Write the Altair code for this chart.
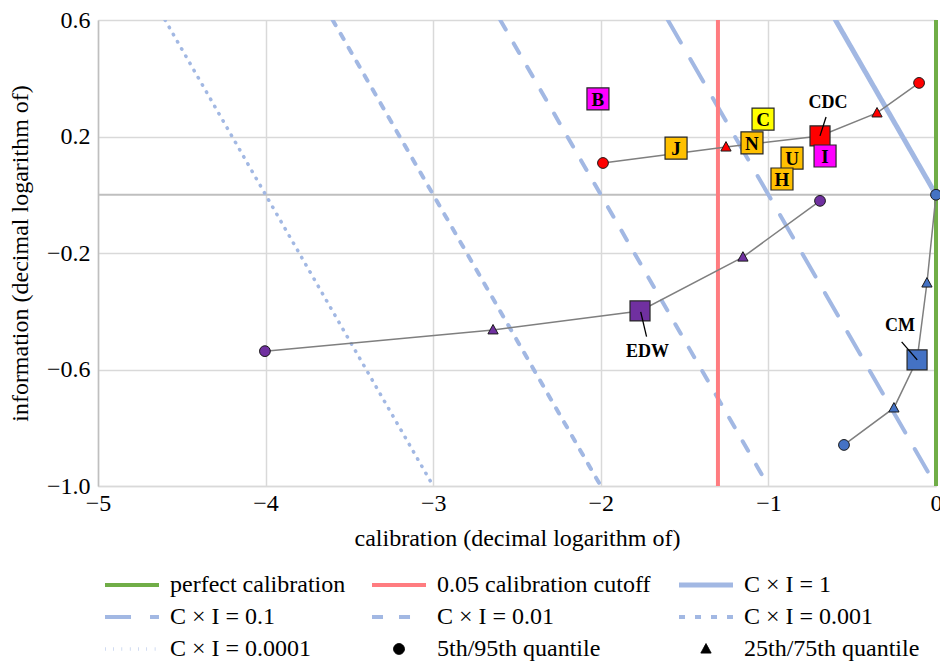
import altair as alt
import pandas as pd

FONT = "Liberation Serif, Times New Roman, serif"

# ---- legend / reference-line definitions ----
legend_domain = ["perfect calibration", "0.05 calibration cutoff", "C × I = 1",
                 "C × I = 0.1", "C × I = 0.01", "C × I = 0.001",
                 "C × I = 0.0001", "5th/95th quantile", "25th/75th quantile"]
legend_colors = ["#70AD47", "#FF7C80", "#A2B8E3", "#A2B8E3", "#A2B8E3",
                 "#A2B8E3", "#A2B8E3", "#000000", "#000000"]
legend_dashes = [[1, 0], [1, 0], [1, 0], [26, 19], [11, 16], [6, 10],
                 [0.5, 7.8], [1, 0], [1, 0]]
legend_widths = [4, 4, 5, 4, 4, 4, 3.5, 1, 1]
# symbol paths in unit coordinates (scaled by sqrt(size)/2 = 6.75 px)
STROKE = "M-4,0L4,0"
CIRCLE = "M0.8,0A0.8,0.8,0,1,1,-0.8,0A0.8,0.8,0,1,1,0.8,0Z"
TRIANGLE = "M0,-0.8L0.76,0.6L-0.76,0.6Z"
legend_shapes = [STROKE] * 7 + [CIRCLE, TRIANGLE]
SYMBOL_SIZE = 182

vertical_names = ["perfect calibration", "0.05 calibration cutoff"]
vertical_x = [0.0, -1.30103]          # log10(1), log10(0.05)
product_names = ["C × I = 1", "C × I = 0.1", "C × I = 0.01",
                 "C × I = 0.001", "C × I = 0.0001"]
product_log = [0, -1, -2, -3, -4]     # log10 of C×I

# ---- expert paths (5th, 25th, score, 75th, 95th) ----
path_experts = ["CDC", "EDW", "CM"]
path_colors = ["#FF0000", "#7030A0", "#4472C4"]
path_kind = ["5th/95th quantile", "25th/75th quantile", "score",
             "25th/75th quantile", "5th/95th quantile"]
cdc_x = [-1.987, -1.253, -0.692, -0.352, -0.101]
cdc_y = [0.109, 0.164, 0.202, 0.281, 0.384]
edw_x = [-4.004, -2.643, -1.766, -1.152, -0.692]
edw_y = [-0.537, -0.464, -0.399, -0.214, -0.021]
cm_x = [0.0, -0.054, -0.113, -0.251, -0.549]
cm_y = [0.0, -0.303, -0.567, -0.732, -0.859]

# annotation labels for the path experts
ann_text_x = [-0.644, -1.721, -0.215]
ann_text_y = [0.315, -0.540, -0.451]
lead_x1 = [-0.692, -1.762, -0.205]
lead_y1 = [0.202, -0.402, -0.505]
lead_x2 = [-0.656, -1.727, -0.112]
lead_y2 = [0.267, -0.487, -0.567]

# ---- single-letter experts ----
sq_labels = ["B", "C", "J", "N", "U", "H", "I"]
sq_x = [-2.017, -1.032, -1.551, -1.098, -0.859, -0.919, -0.662]
sq_y = [0.329, 0.260, 0.160, 0.178, 0.126, 0.054, 0.133]
sq_colors = ["#FF00FF", "#FFFF00", "#FFC000", "#FFC000", "#FFC000",
             "#FFC000", "#FF00FF"]

# ---- build tables ----
vert_rows = []
for n, xv in zip(vertical_names, vertical_x):
    vert_rows += [{"series": n, "x": xv, "y": -1.0}, {"series": n, "x": xv, "y": 0.6}]
vert_df = pd.DataFrame(vert_rows)

diag_rows = []
for n, lk in zip(product_names, product_log):
    diag_rows += [{"series": n, "x": lk - 0.6, "y": 0.6},
                  {"series": n, "x": lk + 1.0, "y": -1.0}]
diag_df = pd.DataFrame(diag_rows)

path_rows = []
for e, c, xs, ys in zip(path_experts, path_colors, [cdc_x, edw_x, cm_x], [cdc_y, edw_y, cm_y]):
    for i, (xv, yv, k) in enumerate(zip(xs, ys, path_kind)):
        path_rows.append({"expert": e, "fillc": c, "x": xv, "y": yv, "series": k, "idx": i})
path_df = pd.DataFrame(path_rows)
quant_df = path_df[path_df["series"] != "score"]
score_df = path_df[path_df["series"] == "score"]

ann_df = pd.DataFrame({"label": path_experts, "tx": ann_text_x, "ty": ann_text_y,
                       "x1": lead_x1, "y1": lead_y1, "x2": lead_x2, "y2": lead_y2})
sq_df = pd.DataFrame({"label": sq_labels, "x": sq_x, "y": sq_y, "fillc": sq_colors})

# ---- scales / encodings ----
xscale = alt.Scale(domain=[-5, 0], nice=False, zero=False)
yscale = alt.Scale(domain=[-1.0, 0.6], nice=False, zero=False)
xaxis = alt.Axis(values=[-5, -4, -3, -2, -1, 0], format="d",
                 title="calibration (decimal logarithm of)",
                 grid=True, gridColor="#D9D9D9", gridWidth=1.5,
                 domainColor="#D9D9D9", domainWidth=1.5, ticks=False,
                 labelFont=FONT, titleFont=FONT,
                 labelFontSize=24, labelPadding=5, titleFontSize=24,
                 titleFontWeight="normal", titlePadding=11, labelFlush=False)
yaxis = alt.Axis(values=[-1.0, -0.6, -0.2, 0.2, 0.6], format=".1f",
                 title="information (decimal logarithm of)",
                 grid=True, gridColor="#D9D9D9", gridWidth=1.5,
                 domainColor="#BFBFBF", domainWidth=1.5, ticks=False,
                 labelFont=FONT, titleFont=FONT,
                 labelFontSize=24, labelPadding=8, titleFontSize=24,
                 titleFontWeight="normal", titlePadding=14)
X = alt.X("x:Q", scale=xscale, axis=xaxis)
Y = alt.Y("y:Q", scale=yscale, axis=yaxis)

leg = alt.Legend(title=None, orient="none", legendX=22, legendY=553,
                 direction="horizontal", columns=3, columnPadding=18,
                 rowPadding=8, labelFontSize=24, labelFont=FONT,
                 labelOffset=26, labelLimit=400, symbolSize=SYMBOL_SIZE)
col_enc = alt.Color("series:N", scale=alt.Scale(domain=legend_domain, range=legend_colors), legend=leg)
dash_enc = alt.StrokeDash("series:N", scale=alt.Scale(domain=legend_domain, range=legend_dashes), legend=leg)
sw_enc = alt.StrokeWidth("series:N", scale=alt.Scale(type="ordinal", domain=legend_domain, range=legend_widths), legend=leg)
shape_enc = alt.Shape("series:N", scale=alt.Scale(domain=legend_domain, range=legend_shapes), legend=leg)

zero_line = alt.Chart(pd.DataFrame({"y": [0.0]})).mark_rule(
    color="#BFBFBF", strokeWidth=2).encode(y=alt.Y("y:Q", scale=yscale, axis=yaxis))

diag = alt.Chart(diag_df).mark_line(clip=True, strokeCap="round").encode(
    x=X, y=Y, color=col_enc, strokeDash=dash_enc, strokeWidth=sw_enc)
vert = alt.Chart(vert_df).mark_line().encode(
    x=X, y=Y, color=col_enc, strokeDash=dash_enc, strokeWidth=sw_enc)

paths = alt.Chart(path_df).mark_line(color="#7F7F7F", strokeWidth=1.5).encode(
    x=X, y=Y, detail="expert:N", order="idx:Q")

quants = alt.Chart(quant_df).mark_point(filled=True, opacity=1, stroke="#1a1a1a",
                                        strokeWidth=1, size=SYMBOL_SIZE).encode(
    x=X, y=Y, shape=shape_enc, color=col_enc,
    fill=alt.Fill("fillc:N", scale=None))

scores = alt.Chart(score_df).mark_square(size=400, opacity=1, stroke="#262626",
                                         strokeWidth=1.2).encode(
    x=X, y=Y, fill=alt.Fill("fillc:N", scale=None))

letters_sq = alt.Chart(sq_df).mark_square(size=484, opacity=1, stroke="#262626",
                                          strokeWidth=1.2).encode(
    x=X, y=Y, fill=alt.Fill("fillc:N", scale=None))
letters_txt = alt.Chart(sq_df).mark_text(font=FONT, fontSize=19, fontWeight="bold",
                                         color="black", baseline="middle",
                                         align="center", dy=1).encode(
    x=X, y=Y, text="label:N")

leaders = alt.Chart(ann_df).mark_rule(color="black", strokeWidth=1.3).encode(
    x=alt.X("x1:Q", scale=xscale, axis=xaxis), y=alt.Y("y1:Q", scale=yscale, axis=yaxis),
    x2="x2:Q", y2="y2:Q")
ann_txt = alt.Chart(ann_df).mark_text(font=FONT, fontSize=18, fontWeight="bold",
                                      color="black", baseline="middle",
                                      align="center").encode(
    x=alt.X("tx:Q", scale=xscale, axis=xaxis), y=alt.Y("ty:Q", scale=yscale, axis=yaxis),
    text="label:N")

chart = alt.layer(zero_line, diag, vert, paths, quants, scores, leaders,
                  letters_sq, letters_txt, ann_txt).properties(
    width=838, height=466,
    autosize=alt.AutoSizeParams(type="none"),
    padding={"left": 98, "top": 20, "right": 4, "bottom": 176},
).configure(font=FONT).configure_view(stroke=None).configure_axis(
    labelFont=FONT, titleFont=FONT, labelColor="black", titleColor="black"
).configure_legend(labelFont=FONT, labelColor="black")

chart.save("out.html", embed_options={"renderer": "svg", "actions": False})
